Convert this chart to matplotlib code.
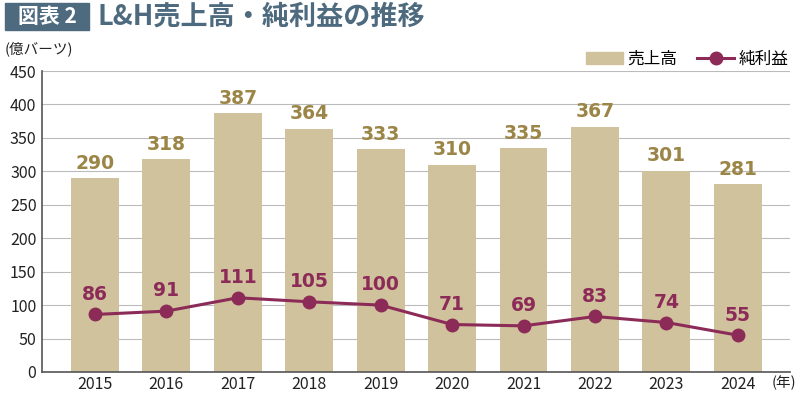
import numpy as np
import matplotlib.pyplot as plt
from matplotlib.patches import Rectangle
from matplotlib.lines import Line2D

plt.rcParams['font.family'] = ['Noto Sans CJK JP', 'DejaVu Sans']

years = ['2015', '2016', '2017', '2018', '2019', '2020', '2021', '2022', '2023', '2024']
sales = [290, 318, 387, 364, 333, 310, 335, 367, 301, 281]
profit = [86, 91, 111, 105, 100, 71, 69, 83, 74, 55]

bar_col = '#cfc29d'
line_col = '#8c2b57'
sales_txt = '#9b8547'
title_col = '#4e6a7f'

fig = plt.figure(figsize=(8, 3.97), dpi=100)
ax = fig.add_axes([0.0525, 0.063, 0.935, 0.758])

x = np.arange(len(years))
ax.bar(x, sales, width=0.67, color=bar_col, zorder=2)
ax.plot(x, profit, color=line_col, lw=2.2, marker='o', ms=9, zorder=3)

for i in range(len(years)):
    ax.text(x[i], sales[i] + 8, str(sales[i]), ha='center', va='bottom',
            fontsize=13.5, fontweight='bold', color=sales_txt, family='DejaVu Sans')
    ax.text(x[i], profit[i] + 16, str(profit[i]), ha='center', va='bottom',
            fontsize=13.5, fontweight='bold', color=line_col, family='DejaVu Sans')

ax.set_xlim(-0.74, 9.73)
ax.set_ylim(0, 450)
ax.set_yticks(range(0, 451, 50))
ax.set_xticks(x)
ax.set_xticklabels(years)
ax.grid(axis='y', color='#bbbbbb', lw=0.8, zorder=0)
ax.tick_params(axis='both', length=0, labelsize=11.5, colors='#222222')
ax.tick_params(axis='y', pad=4)
ax.tick_params(axis='x', pad=3)
for s in ['top', 'right']:
    ax.spines[s].set_visible(False)
ax.spines['left'].set_color('#555555')
ax.spines['bottom'].set_color('#555555')
ax.spines['left'].set_linewidth(1.2)
ax.spines['bottom'].set_linewidth(1.2)

# title banner
fig.patches.append(Rectangle((5 / 800, 1 - 30 / 397), 84 / 800, 27 / 397,
                             transform=fig.transFigure, color=title_col))
fig.text(47 / 800, 1 - 16.5 / 397, '図表 2', ha='center', va='center',
         fontsize=15, fontweight='bold', color='white')
fig.text(97 / 800, 1 - 16.5 / 397, 'L&H売上高・純利益の推移', ha='left', va='center',
         fontsize=19.5, fontweight='bold', color=title_col)
fig.text(5 / 800, 1 - 49 / 397, '(億バーツ)', ha='left', va='center',
         fontsize=10.5, color='#222222')
fig.text(772 / 800, 1 - 383 / 397, '(年)', ha='left', va='center',
         fontsize=10.5, color='#222222')

handles = [Rectangle((0, 0), 1, 1, color=bar_col),
           Line2D([0], [0], color=line_col, lw=2.2, marker='o', ms=9)]
fig.legend(handles, ['売上高', '純利益'], loc='upper right',
           bbox_to_anchor=(1.005, 0.91), ncol=2, frameon=False, fontsize=12,
           handlelength=2.2, columnspacing=1.2, handletextpad=0.3)

fig.savefig('out.png', dpi=100)
